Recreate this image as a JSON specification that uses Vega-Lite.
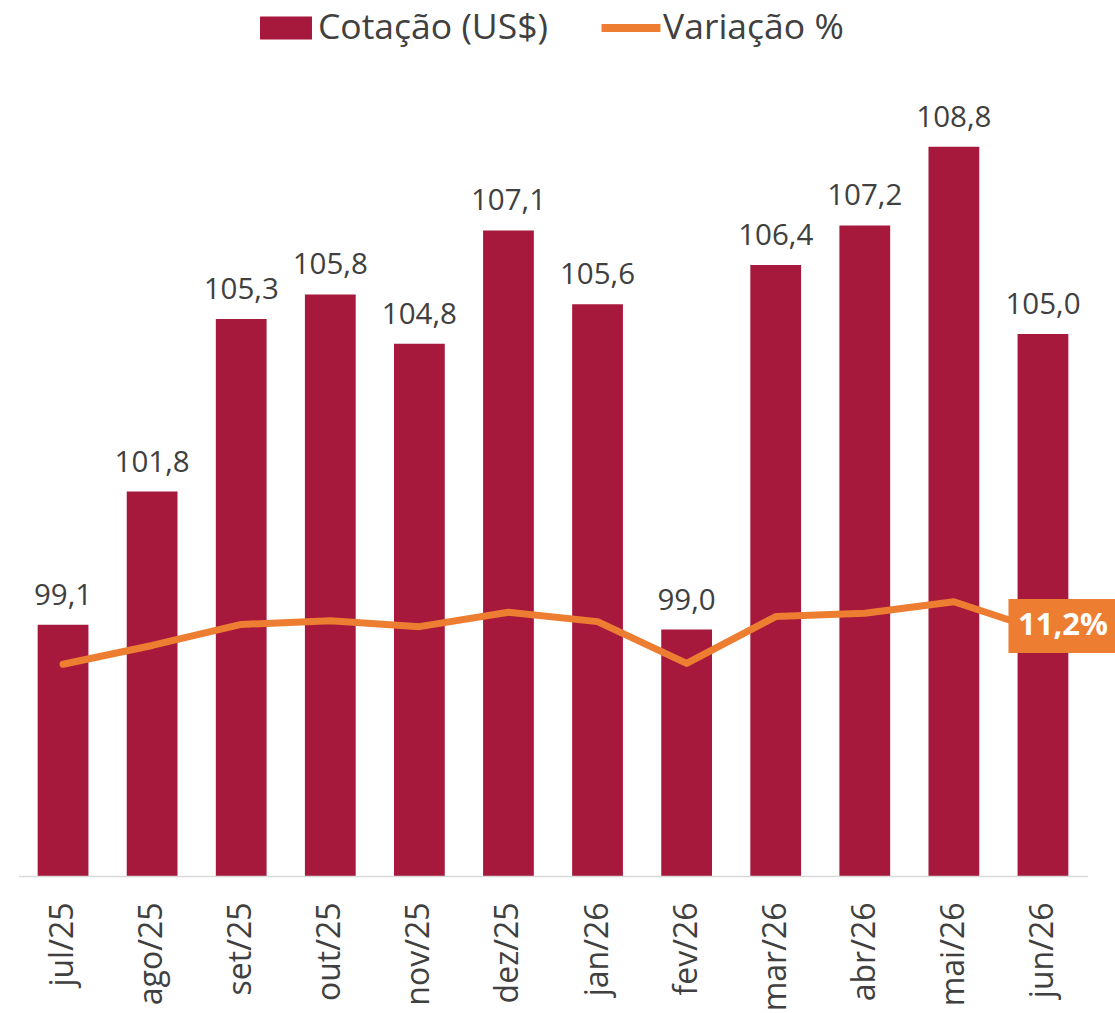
{
  "$schema": "https://vega.github.io/schema/vega-lite/v6.json",
  "width": 1069,
  "height": 788.5,
  "autosize": {"type": "none"},
  "padding": {"left": 18.5, "top": 87.5, "right": 27.5, "bottom": 137},
  "background": "white",
  "config": {
    "locale": {"number": {"decimal": ",", "thousands": ".", "grouping": [3], "currency": ["R$", ""]}},
    "view": {"stroke": null},
    "font": "Open Sans"
  },
  "data": {
    "values": [
      {"mes": "jul/25", "cotacao": 99.1, "variacao": 0.0968},
      {"mes": "ago/25", "cotacao": 101.8, "variacao": 0.1054},
      {"mes": "set/25", "cotacao": 105.3, "variacao": 0.1150},
      {"mes": "out/25", "cotacao": 105.8, "variacao": 0.1167},
      {"mes": "nov/25", "cotacao": 104.8, "variacao": 0.1140},
      {"mes": "dez/25", "cotacao": 107.1, "variacao": 0.1206},
      {"mes": "jan/26", "cotacao": 105.6, "variacao": 0.1163},
      {"mes": "fev/26", "cotacao": 99.0, "variacao": 0.0972},
      {"mes": "mar/26", "cotacao": 106.4, "variacao": 0.1186},
      {"mes": "abr/26", "cotacao": 107.2, "variacao": 0.1201},
      {"mes": "mai/26", "cotacao": 108.8, "variacao": 0.1254},
      {"mes": "jun/26", "cotacao": 105.0, "variacao": 0.112}
    ]
  },
  "encoding": {
    "x": {
      "field": "mes", "type": "ordinal", "sort": null,
      "scale": {"paddingInner": 0.43, "paddingOuter": 0.215},
      "axis": {
        "title": null, "labelAngle": -90, "ticks": false, "labelPadding": 26,
        "domainColor": "#D9D9D9", "domainWidth": 1.5, "zindex": 1,
        "labelFont": "Open Sans", "labelFontSize": 32, "labelColor": "#404040"
      }
    }
  },
  "layer": [
    {
      "layer": [
        {
          "mark": {"type": "bar"},
          "encoding": {
            "y": {"field": "cotacao", "type": "quantitative", "scale": {"domain": [94, 110], "zero": false, "nice": false}, "axis": null},
            "y2": {"datum": 94},
            "color": {
              "datum": "Cotação (US$)",
              "scale": {"domain": ["Cotação (US$)", "Variação %"], "range": ["#A6193C", "#ED7D31"]},
              "legend": {
                "orient": "none", "direction": "horizontal",
                "legendX": 238, "legendY": -89,
                "title": null,
                "labelFont": "Open Sans", "labelFontSize": 35.5, "labelColor": "#404040",
                "labelLimit": 500,
                "labelOffset": 2.5, "columnPadding": 53, "symbolSize": 3481,
                "encode": {
                  "symbols": {
                    "update": {
                      "shape": {"signal": "datum.value == 'Variação %' ? 'M-1,-0.136L1,-0.136L1,0.136L-1,0.136Z' : 'M-0.881,-0.39L0.881,-0.39L0.881,0.39L-0.881,0.39Z'"},
                      "size": {"value": 3481},
                      "strokeWidth": {"value": 0},
                      "fill": {"signal": "datum.value == 'Variação %' ? '#ED7D31' : '#A6193C'"},
                      "opacity": {"value": 1}
                    }
                  }
                }
              }
            }
          }
        },
        {
          "mark": {"type": "text", "baseline": "alphabetic", "dy": -20, "fontSize": 29.5, "font": "Open Sans", "color": "#404040"},
          "encoding": {
            "y": {"field": "cotacao", "type": "quantitative", "scale": {"domain": [94, 110], "zero": false, "nice": false}, "axis": null},
            "text": {"field": "cotacao", "type": "quantitative", "format": ".1f"}
          }
        }
      ]
    },
    {
      "layer": [
        {
          "mark": {"type": "line", "strokeWidth": 7, "strokeCap": "round", "strokeJoin": "round"},
          "encoding": {
            "y": {"field": "variacao", "type": "quantitative", "scale": {"domain": [0, 0.3605], "nice": false}, "axis": null},
            "color": {"datum": "Variação %"}
          }
        },
        {
          "transform": [{"filter": "datum.mes == 'jun/26'"}],
          "mark": {"type": "point", "shape": "M-1,-0.495L1,-0.495L1,0.495L-1,0.495Z", "size": 11881, "filled": true, "fill": "#ED7D31", "opacity": 1, "strokeWidth": 0, "xOffset": 20, "yOffset": -5},
          "encoding": {
            "y": {"field": "variacao", "type": "quantitative", "scale": {"domain": [0, 0.3605], "nice": false}, "axis": null}
          }
        },
        {
          "transform": [{"filter": "datum.mes == 'jun/26'"}],
          "mark": {"type": "text", "font": "Open Sans", "fontWeight": "bold", "fontSize": 31, "color": "white", "baseline": "middle", "align": "center", "dx": 20, "dy": -5},
          "encoding": {
            "y": {"field": "variacao", "type": "quantitative", "scale": {"domain": [0, 0.3605], "nice": false}, "axis": null},
            "text": {"field": "variacao", "type": "quantitative", "format": ".1%"}
          }
        }
      ]
    }
  ],
  "resolve": {"scale": {"y": "independent"}}
}
